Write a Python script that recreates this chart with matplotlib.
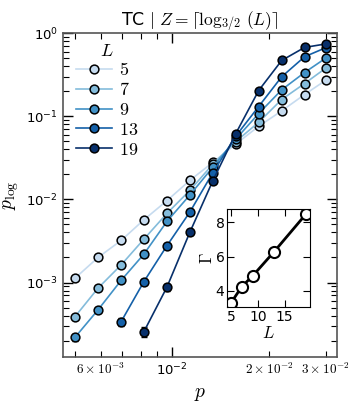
import numpy as np
import matplotlib
matplotlib.use("Agg")
import matplotlib.pyplot as plt
from matplotlib.ticker import LogLocator

plt.rcParams['mathtext.fontset'] = 'cm'
plt.rcParams['font.family'] = ['DejaVu Sans']

# ---- data ----
p = [0.00500, 0.00589, 0.00695, 0.00818, 0.00964, 0.01136,
     0.01339, 0.01577, 0.01858, 0.02190, 0.02580, 0.03000]

L_values = [5, 7, 9, 13, 19]

p_log_L5 = [1.13e-3, 2.00e-3, 3.21e-3, 5.69e-3, 9.65e-3, 0.01694,
            0.0279, 0.0462, 0.0758, 0.1161, 0.1826, 0.2707]
p_log_L7 = [3.9e-4, 8.56e-4, 1.63e-3, 3.33e-3, 6.78e-3, 0.01284,
            0.02655, 0.0496, 0.0847, 0.159, 0.2477, 0.3787]
p_log_L9 = [2.2e-4, 4.69e-4, 1.063e-3, 2.2e-3, 5.43e-3, 0.0113,
            0.02444, 0.0531, 0.1078, 0.208, 0.336, 0.50]
p_log_L13 = [np.nan, np.nan, 3.39e-4, 1.028e-3, 2.77e-3, 7.05e-3,
             0.021, 0.0577, 0.131, 0.2985, 0.52, 0.667]
p_log_L19 = [np.nan, np.nan, np.nan, 2.57e-4, 8.8e-4, 4.03e-3,
             0.0168, 0.0619, 0.204, 0.469, 0.673, 0.741]

err_L5 = [0.05e-3, 0.06e-3, 0.07e-3, 0.1e-3, 0.15e-3, 0.2e-3,
          0.3e-3, 0.5e-3, 0.8e-3, 1.2e-3, 1.8e-3, 2.5e-3]
err_L7 = [0.03e-4, 0.04e-4, 0.06e-3, 0.08e-3, 0.12e-3, 0.2e-3,
          0.3e-3, 0.5e-3, 0.8e-3, 1.5e-3, 2.3e-3, 3.5e-3]
err_L9 = [0.2e-4, 0.25e-4, 0.4e-4, 0.07e-3, 0.12e-3, 0.2e-3,
          0.3e-3, 0.5e-3, 1.0e-3, 2.0e-3, 3.0e-3, 4.5e-3]
err_L13 = [np.nan, np.nan, 0.35e-4, 0.8e-4, 0.15e-3, 0.3e-3,
           0.4e-3, 0.7e-3, 1.3e-3, 3.0e-3, 5.0e-3, 6.0e-3]
err_L19 = [np.nan, np.nan, np.nan, 0.35e-4, 0.8e-4, 0.25e-3,
           0.4e-3, 0.8e-3, 2.0e-3, 4.5e-3, 6.5e-3, 7.0e-3]

Gamma = [3.29, 4.24, 4.86, 6.28, 8.51]

series = [p_log_L5, p_log_L7, p_log_L9, p_log_L13, p_log_L19]
errors = [err_L5, err_L7, err_L9, err_L13, err_L19]

# ---- figure ----
fig = plt.figure(figsize=(3.57, 4.04), dpi=100)
ax = fig.add_axes([0.1765, 0.1163, 0.7675, 0.8017])

colors = plt.cm.Blues(np.linspace(0.25, 1.0, 5))
for Lv, y, e, c in zip(L_values, series, errors, colors):
    ax.errorbar(p, y, yerr=e, fmt='none', ecolor='black', elinewidth=1.0,
                capsize=2.5, capthick=1.0, zorder=1.5)
    ax.plot(p, y, '-o', color=c, mfc=c, mec='black', mew=1.1, ms=6.3,
            lw=1.2, label=f'${Lv}$', zorder=2)

ax.set_xscale('log')
ax.set_yscale('log')
ax.set_xlim(4.585e-3, 0.03253)
ax.set_ylim(1.27e-4, 1.0)

ax.xaxis.set_major_locator(LogLocator(base=10, subs=(1.0,)))
ax.xaxis.set_minor_locator(LogLocator(base=10, subs=np.arange(2, 10)))
minor_labels = {6e-3, 2e-2, 3e-2}
def minor_fmt(x, pos):
    for m in minor_labels:
        if abs(x - m) / m < 1e-6:
            mant = int(round(x / 10 ** np.floor(np.log10(x))))
            ex = int(np.floor(np.log10(x)))
            return r'$%d\times10^{%d}$' % (mant, ex)
    return ''
ax.xaxis.set_minor_formatter(plt.FuncFormatter(minor_fmt))

ax.tick_params(which='both', direction='in', top=True, right=True,
               labelsize=9.5)
ax.tick_params(which='major', length=7, width=1.0)
ax.tick_params(which='minor', length=4, width=0.8)
for s in ax.spines.values():
    s.set_linewidth(1.2)
    s.set_color('#555555')

ax.set_xlabel(r'$p$', fontsize=14)
ax.set_ylabel(r'$p_{\log}$', fontsize=14)
ax.set_title(r'TC $|$ $Z = \lceil \log_{3/2}\,(L) \rceil$', fontsize=12.5)

leg = ax.legend(title=r'$L$', loc='upper left', frameon=False,
                fontsize=13, title_fontsize=13, handlelength=2.0,
                bbox_to_anchor=(0.0, 1.013), labelspacing=0.1,
                borderaxespad=0.3, handletextpad=0.4)

# ---- inset ----
ins = fig.add_axes([0.6367, 0.2394, 0.2316, 0.2425])
ins.plot(L_values, Gamma, '-o', color='black', mfc='white', mec='black',
         ms=8, mew=1.5, lw=2.0)
ins.set_xticks([5, 10, 15])
ins.set_yticks([4, 6, 8])
ins.tick_params(direction='in', top=True, right=True, labelsize=10,
                length=5, pad=2)
ins.set_xlabel(r'$L$', fontsize=12, labelpad=0)
ins.set_ylabel(r'$\Gamma$', fontsize=12, labelpad=0)

fig.savefig('out.png', dpi=100)
